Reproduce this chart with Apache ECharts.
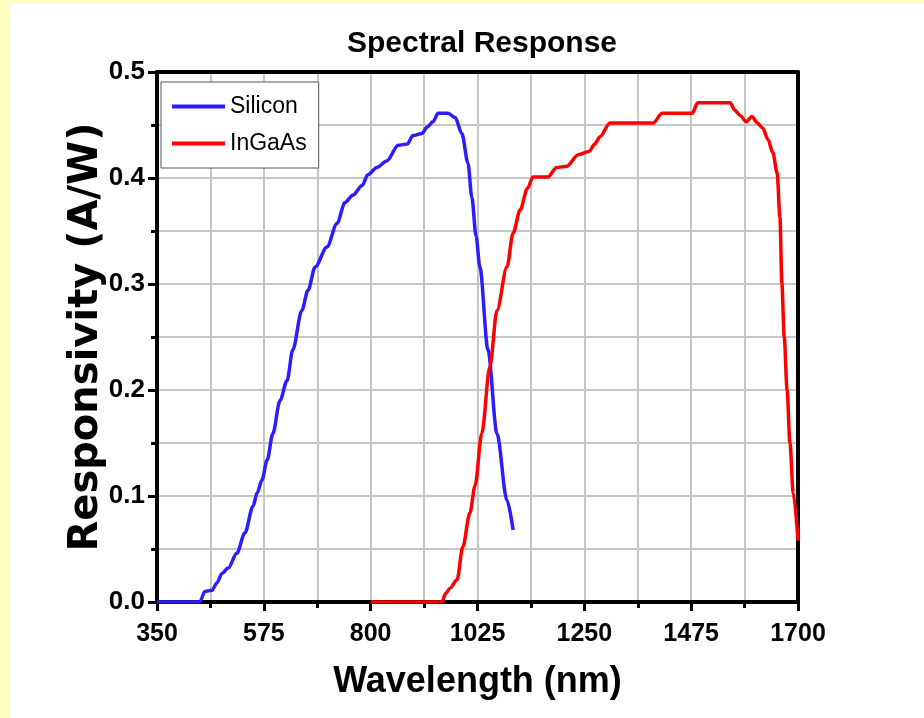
<!DOCTYPE html>
<html>
<head>
<meta charset="utf-8">
<script src="https://cdn.jsdelivr.net/npm/echarts@6/dist/echarts.min.js"></script>
<style>
html,body{margin:0;padding:0;background:#ffffbe;}
#frame{position:absolute;left:10px;top:4px;width:914px;height:714px;background:#fff;}
#chart{position:absolute;left:0;top:0;width:924px;height:718px;}
</style>
</head>
<body>
<div id="frame"></div>
<div id="chart"></div>
<script>
const titleText = 'Spectral Response';
const xAxisName = 'Wavelength (nm)';
const yAxisName = 'Responsivity (A/W)';
const seriesNames = ['Silicon', 'InGaAs'];

const siliconWavelength = [350,440,451,466,476,487,500,518,535,552,561,571,582,594,609,624,636,655,668,683,708,729,746,763,782,794,813,834,858,877,889,908,919,931,942,963,978,992,1005,1013,1022,1030,1047,1066,1087,1100];
const siliconResponse   = [0,0,0.01,0.011,0.018,0.027,0.032,0.046,0.065,0.09,0.103,0.115,0.134,0.159,0.19,0.209,0.238,0.275,0.294,0.316,0.335,0.357,0.377,0.384,0.393,0.403,0.41,0.416,0.431,0.432,0.44,0.442,0.448,0.453,0.461,0.461,0.457,0.442,0.414,0.382,0.345,0.316,0.238,0.159,0.096,0.068];

const ingaasWavelength = [800,950,958,967,982,994,1009,1020,1034,1051,1066,1087,1100,1115,1130,1142,1173,1192,1213,1237,1260,1272,1283,1304,1395,1414,1477,1489,1557,1567,1578,1591,1603,1614,1626,1637,1647,1656,1662,1666,1671,1677,1683,1690,1700];
const ingaasResponse   = [0,0,0.008,0.013,0.021,0.052,0.084,0.11,0.159,0.222,0.275,0.316,0.348,0.37,0.39,0.401,0.401,0.41,0.411,0.422,0.425,0.432,0.439,0.452,0.452,0.461,0.461,0.471,0.471,0.464,0.459,0.453,0.458,0.452,0.447,0.436,0.424,0.405,0.363,0.301,0.25,0.2,0.15,0.103,0.058];

const xMin = 350, xMax = 1700, xStep = 225;
const yMin = 0, yMax = 0.5, yStep = 0.1;

const pair = (xs, ys) => xs.map((x, i) => [x, ys[i]]);
const font = "'Liberation Sans', Arial, sans-serif";
const gridColor = '#c6c6c6';
const frameAxis = {
  axisLine: {show: true, onZero: false, lineStyle: {color: '#000', width: 4}},
  axisTick: {show: false}, axisLabel: {show: false}, splitLine: {show: false}
};

const chart = echarts.init(document.getElementById('chart'), null, {renderer: 'canvas'});
chart.setOption({
  backgroundColor: 'transparent',
  animation: false,
  title: {
    text: titleText,
    left: 477, top: 24, textAlign: 'center',
    textStyle: {fontFamily: font, fontWeight: 'bold', fontSize: 30, color: '#000'}
  },
  legend: {
    data: seriesNames,
    orient: 'vertical',
    left: 161, top: 82,
    padding: [13, 12, 13, 11],
    itemGap: 14,
    icon: 'rect',
    itemWidth: 53, itemHeight: 4,
    backgroundColor: '#fff',
    borderColor: '#555', borderWidth: 1, borderRadius: 0,
    textStyle: {fontFamily: font, fontSize: 23, color: '#000'}
  },
  grid: {
    left: 157, right: 126, top: 72, bottom: 116,
    show: true, borderWidth: 0, backgroundColor: '#fff'
  },
  xAxis: [{
    type: 'value', min: xMin, max: xMax, interval: xStep,
    name: xAxisName, nameLocation: 'middle', nameGap: 62,
    nameTextStyle: {fontFamily: font, fontWeight: 'bold', fontSize: 36, color: '#000'},
    axisLine: {show: true, onZero: false, lineStyle: {color: '#000', width: 4}},
    axisTick: {show: true, inside: false, length: 9, lineStyle: {color: '#000', width: 3}},
    minorTick: {show: true, splitNumber: 2, length: 6, lineStyle: {color: '#000', width: 3}},
    axisLabel: {margin: 20, fontFamily: font, fontWeight: 'bold', fontSize: 25, color: '#000',
      formatter: v => String(v)},
    splitLine: {show: true, lineStyle: {color: gridColor, width: 2}},
    minorSplitLine: {show: true, lineStyle: {color: gridColor, width: 2}}
  }, Object.assign({type: 'value', position: 'top', min: xMin, max: xMax, interval: xStep}, frameAxis)],
  yAxis: [{
    type: 'value', min: yMin, max: yMax, interval: yStep,
    name: yAxisName, nameLocation: 'middle', nameGap: 50, nameMoveOverlap: false,
    nameTextStyle: {fontFamily: "'DejaVu Sans', sans-serif", fontWeight: 'bold', fontSize: 40, color: '#000'},
    axisLine: {show: true, onZero: false, lineStyle: {color: '#000', width: 4}},
    axisTick: {show: true, inside: false, length: 9, lineStyle: {color: '#000', width: 3}},
    minorTick: {show: true, splitNumber: 2, length: 6, lineStyle: {color: '#000', width: 3}},
    axisLabel: {margin: 12, fontFamily: font, fontWeight: 'bold', fontSize: 26, color: '#000',
      formatter: v => v.toFixed(1)},
    splitLine: {show: true, lineStyle: {color: gridColor, width: 2}},
    minorSplitLine: {show: true, lineStyle: {color: gridColor, width: 2}}
  }, Object.assign({type: 'value', position: 'right', min: yMin, max: yMax, interval: yStep}, frameAxis)],
  series: [
    {
      name: seriesNames[0], type: 'line', data: pair(siliconWavelength, siliconResponse),
      symbol: 'none', smooth: 0.3, smoothMonotone: 'x',
      lineStyle: {color: '#2c1cff', width: 3.5}, itemStyle: {color: '#2c1cff'}
    },
    {
      name: seriesNames[1], type: 'line', data: pair(ingaasWavelength, ingaasResponse),
      symbol: 'none', smooth: 0.3, smoothMonotone: 'x',
      lineStyle: {color: '#ff0000', width: 3.5}, itemStyle: {color: '#ff0000'}
    }
  ]
});
</script>
</body>
</html>
